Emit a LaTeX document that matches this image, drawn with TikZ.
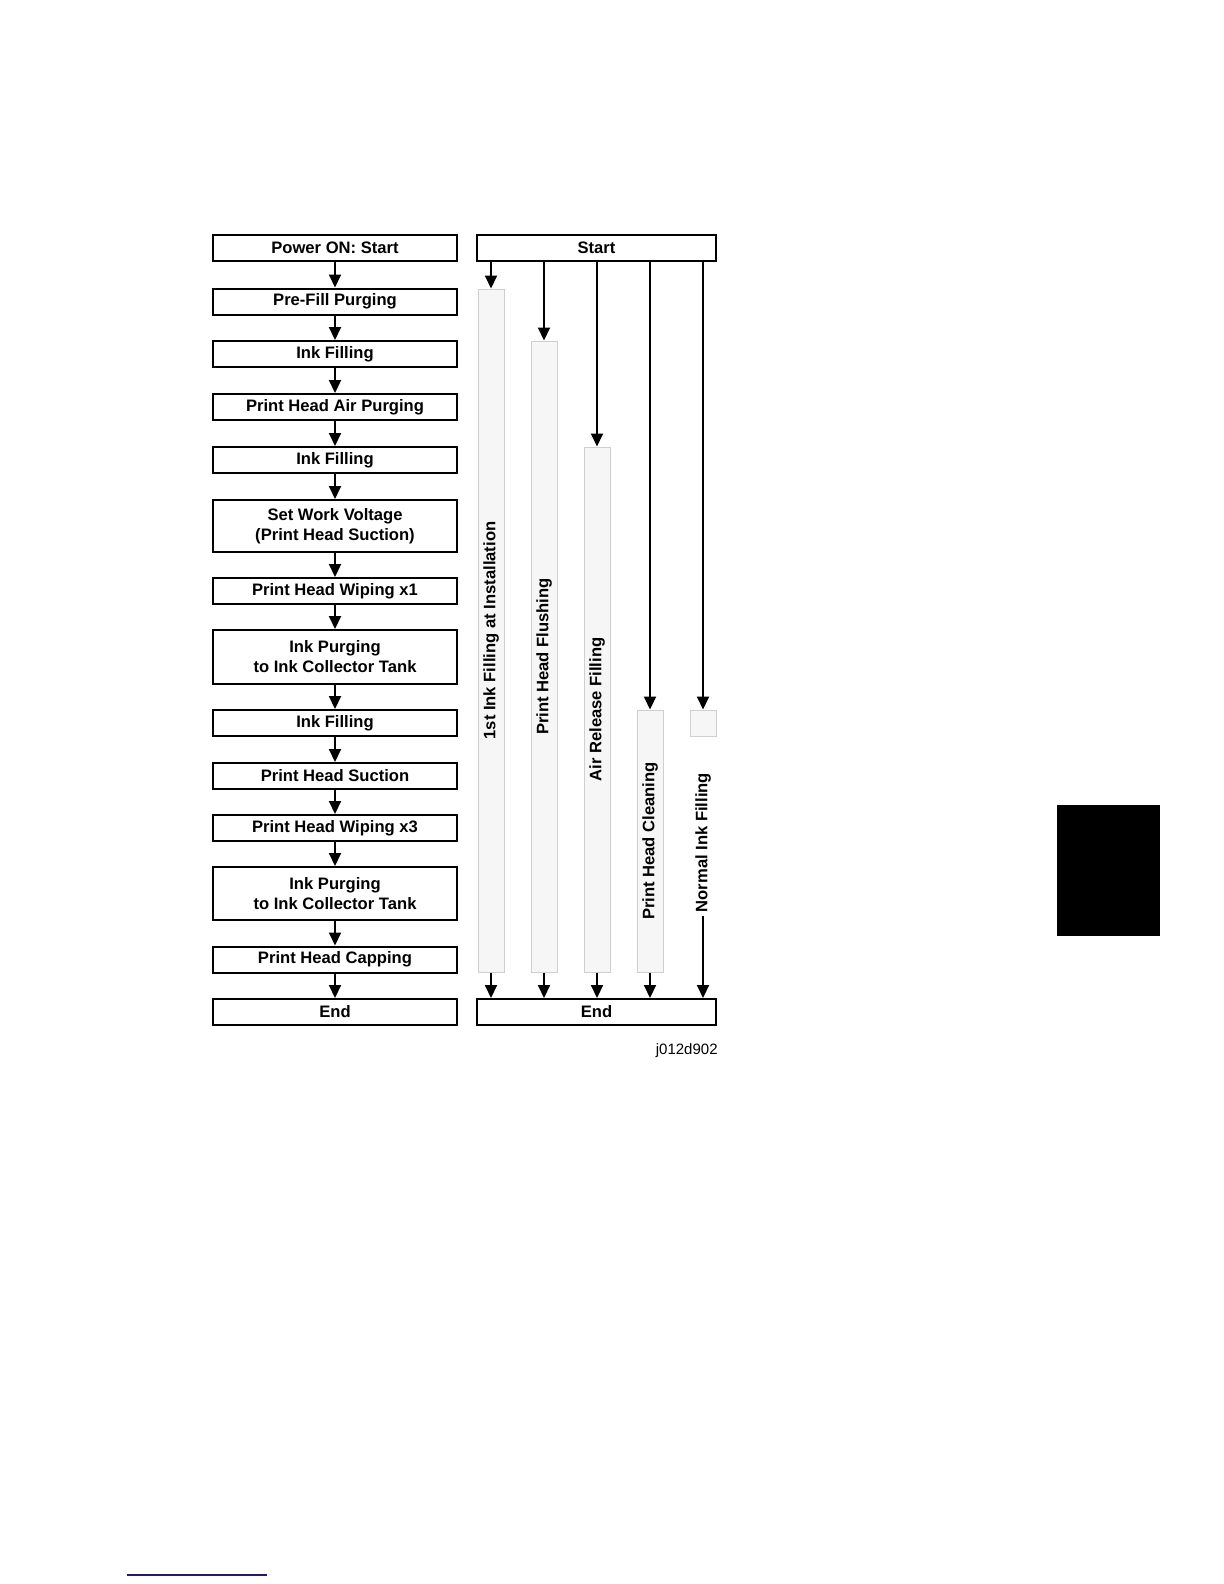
\documentclass[tikz,border=0pt]{standalone}
\usepackage{fontspec}
\setmainfont{Liberation Sans}
\usetikzlibrary{arrows.meta,positioning}

\definecolor{lanefill}{HTML}{F6F6F6}
\definecolor{laneline}{HTML}{CFCFCF}
\definecolor{rulenavy}{HTML}{1C1C78}

\tikzset{
  stepbox/.style={draw, line width=1pt, minimum width=122pt, minimum height=13pt,
    inner sep=0pt, align=center, font=\fontsize{8.3}{10}\selectfont\bfseries},
  flow/.style={line width=1pt, -{Triangle[length=6.5pt,width=6pt]}},
  lane/.style={draw=laneline, fill=lanefill, line width=0.5pt, minimum width=13pt, inner sep=0pt},
  lanetext/.style={rotate=90, inner sep=1.5pt, font=\fontsize{8.3}{10}\selectfont\bfseries}
}

\begin{document}
\begin{tikzpicture}[x=0.5pt,y=-0.5pt]
  \useasboundingbox (0,0) rectangle (1224,1584);

  % left: power on sequence
  \node[stepbox] (s0) at (335,248) {Power ON: Start};
  \node[stepbox] (s1) at (335,301.5) {Pre-Fill Purging};
  \node[stepbox] (s2) at (335,354) {Ink Filling};
  \node[stepbox] (s3) at (335,407) {Print Head Air Purging};
  \node[stepbox] (s4) at (335,460) {Ink Filling};
  \node[stepbox, minimum height=26pt] (s5) at (335,526) {Set Work Voltage\\(Print Head Suction)};
  \node[stepbox] (s6) at (335,591) {Print Head Wiping x1};
  \node[stepbox, minimum height=27pt] (s7) at (335,657) {Ink Purging\\to Ink Collector Tank};
  \node[stepbox] (s8) at (335,723) {Ink Filling};
  \node[stepbox] (s9) at (335,776) {Print Head Suction};
  \node[stepbox] (s10) at (335,828) {Print Head Wiping x3};
  \node[stepbox, minimum height=26.5pt] (s11) at (335,893.5) {Ink Purging\\to Ink Collector Tank};
  \node[stepbox] (s12) at (335,959.5) {Print Head Capping};
  \node[stepbox] (s13) at (335,1012) {End};

  \foreach \a/\b in {s0/s1,s1/s2,s2/s3,s3/s4,s4/s5,s5/s6,s6/s7,s7/s8,s8/s9,s9/s10,s10/s11,s11/s12,s12/s13}
    \draw[flow] (\a) -- (\b);

  % right: service modes
  \node[stepbox, minimum width=119.5pt] (start) at (596.5,248) {Start};
  \node[stepbox, minimum width=119.5pt] (end) at (596.5,1012) {End};

  \node[lane, minimum height=341.5pt] (lane1) at (491,630.5) {};
  \node[lane, minimum height=315.5pt] (lane2) at (544,656.5) {};
  \node[lane, minimum height=262.5pt] (lane3) at (597,709.5) {};
  \node[lane, minimum height=131pt] (lane4) at (650,841) {};
  \node[lane, minimum height=13pt] (lane5) at (703,723) {};

  \node[lanetext] (t1) at (lane1.center) {1st Ink Filling at Installation};
  \node[lanetext] (t2) at (lane2.center) {Print Head Flushing};
  \node[lanetext] (t3) at (lane3.center) {Air Release Filling};
  \node[lanetext] (t4) at (lane4.center) {Print Head Cleaning};
  \node[lanetext] (t5) at (703,842.5) {Normal Ink Filling};

  \foreach \l in {lane1,lane2,lane3,lane4,lane5}
    \draw[flow] (start.south -| \l) -- (\l.north);
  \foreach \l in {lane1,lane2,lane3,lane4}
    \draw[flow] (\l.south) -- (\l.south |- end.north);
  \draw[flow] (t5.west) -- (t5.west |- end.north);

  \node[anchor=south east, inner sep=0pt, font=\fontsize{7.5}{9}\selectfont] (fig) at (718,1058) {j012d902};

  % page decorations
  \fill (1057,805) rectangle (1160,936);
  \draw[rulenavy, line width=1pt] (127,1575) -- (267,1575);
\end{tikzpicture}
\end{document}
